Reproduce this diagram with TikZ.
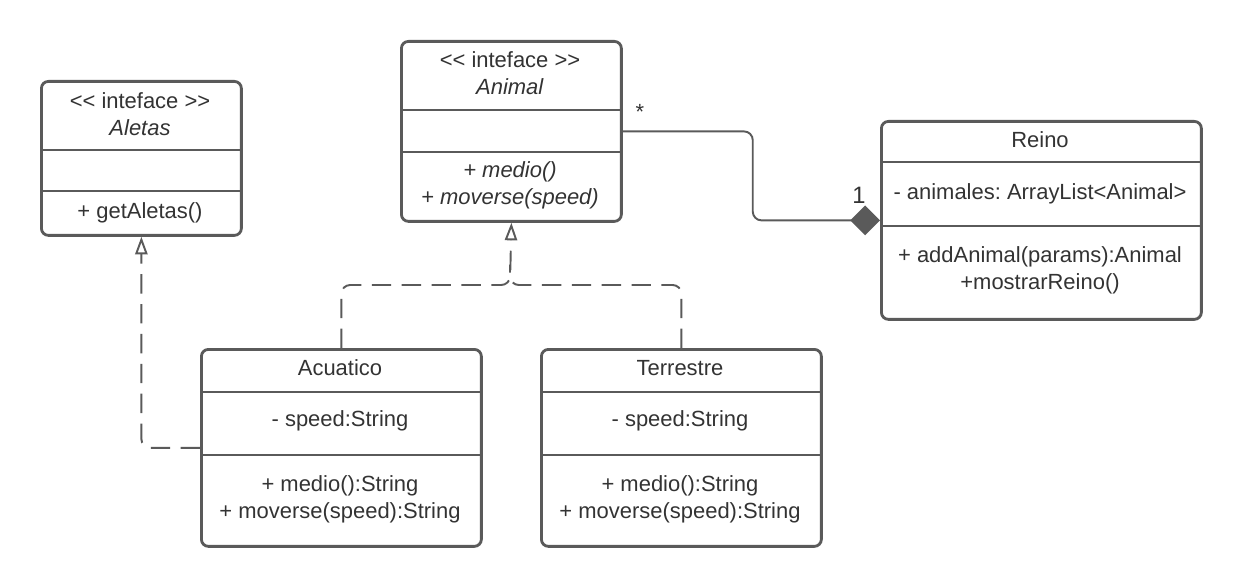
\documentclass[tikz,border=0pt]{standalone}
\usepackage{fontspec}
\setmainfont{Liberation Sans}
\usetikzlibrary{arrows.meta}
\definecolor{umlline}{HTML}{5A5A5A}
\definecolor{umltext}{HTML}{333333}
\frenchspacing

\begin{document}
\begin{tikzpicture}[
    x=0.02cm, y=-0.02cm,
    font=\fontsize{12.5}{15.3}\selectfont,
    class box/.style={draw=umlline,line width=1.6pt,rounded corners=4pt,anchor=north west,inner sep=0pt},
    divider/.style={umlline,line width=1.6pt},
    member/.style={align=center,inner sep=1pt,text=umltext},
    realize/.style={umlline,line width=1.1pt,dash pattern=on 11pt off 6pt,rounded corners=5pt,-{Triangle[open,length=10pt,width=7pt]}},
    compose/.style={umlline,line width=1.1pt,rounded corners=5pt,-{Diamond[length=17pt,width=17pt]}}
]
\useasboundingbox (0,0) rectangle (1240,587);

% Interface Aletas
\node[class box,minimum width=4cm,minimum height=3.08cm] (aletas) at (40,80) {};
\draw[divider] (40,150) -- (240,150);
\draw[divider] (40,191) -- (240,191);
\node[member] (aletas-name) at (140,114) {<\kern0pt< inteface >\kern0pt>\\\textit{Aletas}};
\node[member] (aletas-ops) at (140,213) {+ getAletas()};

% Interface Animal
\node[class box,minimum width=4.4cm,minimum height=3.6cm] (animal) at (400,40) {};
\draw[divider] (400,110) -- (620,110);
\draw[divider] (400,152) -- (620,152);
\node[member] (animal-name) at (510,73) {<\kern0pt< inteface >\kern0pt>\\\textit{Animal}};
\node[member] (animal-ops) at (510,185) {\textit{+ medio()}\\\textit{+ moverse(speed)}};

% Clase Reino
\node[class box,minimum width=6.4cm,minimum height=3.96cm] (reino) at (880,120) {};
\draw[divider] (880,162) -- (1200,162);
\draw[divider] (880,226) -- (1200,226);
\node[member] (reino-name) at (1040,140) {Reino};
\node[member] (reino-attr) at (1040,194) {- animales: ArrayList<Animal>};
\node[member] (reino-ops) at (1040,270) {+ addAnimal(params):Animal\\+mostrarReino()};

% Clase Acuatico
\node[class box,minimum width=5.6cm,minimum height=3.94cm] (acuatico) at (200,348) {};
\draw[divider] (200,392) -- (480,392);
\draw[divider] (200,455) -- (480,455);
\node[member] (acuatico-name) at (340,368) {Acuatico};
\node[member] (acuatico-attr) at (340,421) {- speed:String};
\node[member] (acuatico-ops) at (340,499) {+ medio():String\\+ moverse(speed):String};

% Clase Terrestre
\node[class box,minimum width=5.6cm,minimum height=3.94cm] (terrestre) at (540,348) {};
\draw[divider] (540,392) -- (820,392);
\draw[divider] (540,455) -- (820,455);
\node[member] (terrestre-name) at (680,368) {Terrestre};
\node[member] (terrestre-attr) at (680,421) {- speed:String};
\node[member] (terrestre-ops) at (680,499) {+ medio():String\\+ moverse(speed):String};

% Composicion Animal -- Reino
\draw[compose] (animal.east) -- ++(130,0) |- (reino.west);
\node[member] (mult-many) at (640,112) {*};
\node[member,font=\fontsize{13.5}{15}\selectfont] (mult-one) at (859,195) {1};

% Realizaciones
\coordinate (join) at (510,285);
\draw[realize] (acuatico.north) |- (join) -- (animal.south);
\draw[realize,-] (terrestre.north) |- (join) -- ++(0,-20);
\draw[realize] (acuatico.west) -| (aletas.south);

\end{tikzpicture}
\end{document}
